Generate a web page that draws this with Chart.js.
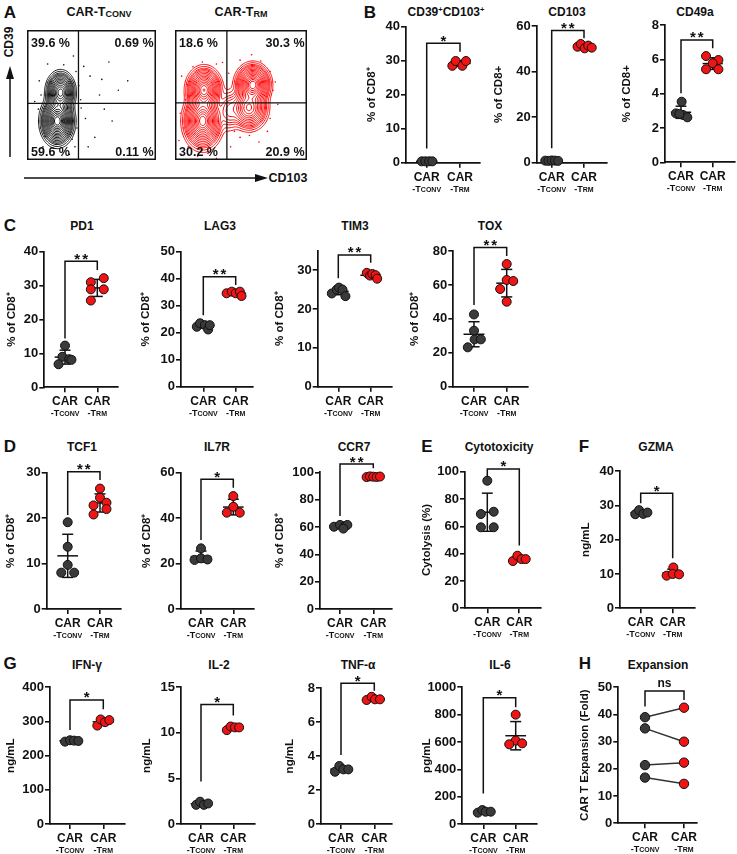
<!DOCTYPE html>
<html>
<head>
<meta charset="utf-8">
<title>CAR-TRM vs CAR-TCONV</title>
<script src="https://cdn.jsdelivr.net/npm/chart.js@4.4.1/dist/chart.umd.min.js"></script>
<style>
  body { margin: 0; background: #fff; }
  #fig { position: relative; width: 737px; height: 854px; overflow: hidden; font-family: 'Liberation Sans', Arial, Helvetica, sans-serif; color: #111; }
  #fig canvas { position: absolute; }
  #fig svg { position: absolute; left: 0; top: 0; }
  .lbl { position: absolute; font-weight: bold; white-space: nowrap; transform: translate(-50%, -50%); line-height: 1; }
  .ttl { font-size: 12px; }
  .let { font-size: 17px; }
  .ttl sup { font-size: 7.5px; vertical-align: 4px; }
  .ttl sub { font-size: 9px; vertical-align: -1px; }
  .rot { transform: translate(-50%, -50%) rotate(-90deg); font-size: 12px; }
</style>
</head>
<body>
<div id="fig">
  <!-- panel letters -->
  <div class="lbl let" style="left:10px;top:12px">A</div>
  <div class="lbl let" style="left:370px;top:12px">B</div>
  <div class="lbl let" style="left:10px;top:225px">C</div>
  <div class="lbl let" style="left:10px;top:446px">D</div>
  <div class="lbl let" style="left:427px;top:446px">E</div>
  <div class="lbl let" style="left:584px;top:446px">F</div>
  <div class="lbl let" style="left:10px;top:663px">G</div>
  <div class="lbl let" style="left:585px;top:663px">H</div>

  <!-- panel titles -->
  <div class="lbl ttl" style="left:99px;top:12px;font-size:12.5px">CAR-T<sub>CONV</sub></div>
  <div class="lbl ttl" style="left:241px;top:12px;font-size:12.5px">CAR-T<sub>RM</sub></div>
  <div class="lbl ttl" style="left:446px;top:12px">CD39<sup>+</sup>CD103<sup>+</sup></div>
  <div class="lbl ttl" style="left:567px;top:12px">CD103</div>
  <div class="lbl ttl" style="left:695px;top:12px">CD49a</div>
  <div class="lbl ttl" style="left:82px;top:226px">PD1</div>
  <div class="lbl ttl" style="left:220px;top:226px">LAG3</div>
  <div class="lbl ttl" style="left:355px;top:226px">TIM3</div>
  <div class="lbl ttl" style="left:490px;top:226px">TOX</div>
  <div class="lbl ttl" style="left:82px;top:447px">TCF1</div>
  <div class="lbl ttl" style="left:217px;top:447px">IL7R</div>
  <div class="lbl ttl" style="left:354px;top:447px">CCR7</div>
  <div class="lbl ttl" style="left:499px;top:447px">Cytotoxicity</div>
  <div class="lbl ttl" style="left:656px;top:447px">GZMA</div>
  <div class="lbl ttl" style="left:87px;top:665px">IFN-γ</div>
  <div class="lbl ttl" style="left:219px;top:665px">IL-2</div>
  <div class="lbl ttl" style="left:358px;top:665px">TNF-α</div>
  <div class="lbl ttl" style="left:500px;top:665px">IL-6</div>
  <div class="lbl ttl" style="left:658px;top:665px">Expansion</div>

  <!-- flow axes -->
  <svg width="300" height="190">
    <line x1="10" y1="157" x2="10" y2="76" stroke="#111" stroke-width="1.5"/>
    <polygon points="10,66 6,79 14,79" fill="#111"/>
    <line x1="24" y1="178" x2="258" y2="178" stroke="#111" stroke-width="1.5"/>
    <polygon points="268,178 255,174 255,182" fill="#111"/>
  </svg>
  <div class="lbl rot" style="left:9px;top:42px">CD39</div>
  <div class="lbl" style="left:288px;top:178px;font-size:12.5px">CD103</div>
</div>

<script>
// =====================
// Data
// =====================

// x categories
const groupNames = ['CAR', 'CAR'];
const groupSubs = ['CONV', 'RM'];

// A - flow plots: density populations [cx, cy, sx, sy, weight] in plot units (0-100)
const convBlobs = [[26, 52, 4.2, 6, 1.0], [23.5, 30, 4.8, 7, 1.3]];
const trmBlobs = [[22, 54, 5, 6.5, 1.0], [21, 30, 5.5, 8, 1.1], [59, 58, 5, 6, 1.1], [56, 40, 5.5, 6.5, 0.7], [41, 38, 4, 7, 0.12]];
const contourLevels = [0.01, 0.02, 0.035, 0.05, 0.07, 0.1, 0.14, 0.19, 0.25, 0.32, 0.4, 0.5, 0.6, 0.7, 0.8, 0.9];
const convGate = [39.9, 43.5];
const trmGate = [39.3, 44];
const convPct = ['39.6 %', '0.69 %', '59.6 %', '0.11 %'];
const trmPct = ['18.6 %', '30.3 %', '30.2 %', '20.9 %'];
const convDots = [[9.5, 60.9], [10.9, 50], [8.8, 39.1], [10.2, 24.6], [12.4, 10.1], [38, 68.1], [40.1, 57.2], [41.6, 46.4],
  [38.7, 24.6], [37.2, 10.1], [48.9, 64.5], [56.2, 50], [45.3, 31.9], [52.6, 17.4], [63.5, 75.4], [70.8, 53.6], [59.9, 39.1],
  [78.1, 60.9], [47.4, 10.1], [16, 73.9], [28.5, 73.2], [32.8, 4.3], [44, 72], [36, 80], [58, 62], [66, 30], [42, 40],
  [14, 18], [35, 16], [6, 45]];
const trmDots = [[5, 64.5], [7.9, 46.4], [6.4, 24.6], [10, 10.1], [17.1, 2.9], [31.4, 1.4], [42.1, 10.1], [49.3, 17.4],
  [63.6, 13.8], [72.1, 31.9], [74.3, 53.6], [72.1, 68.1], [65, 76.1], [49.3, 76.8], [31.4, 73.9], [20.7, 75.4], [77.9, 42.8],
  [56.4, 18.8], [40.7, 66.7], [13.6, 71.7], [4, 36], [9, 58], [25, 5], [45, 22], [70, 22], [76, 60], [36, 75], [58, 81],
  [68, 40], [3, 15]];

// B
const cd39Conv = [0.4, 0.4, 0.4, 0.4];
const cd39Trm = [28.5, 29.9, 28.5, 29.9];
const cd39ConvJit = [-0.15, -0.04, 0.07, 0.17];
const cd39TrmJit = [-0.23, -0.13, 0.07, 0.18];
const cd39Ticks = [0, 10, 20, 30, 40];
const cd39Bracket = [35.1, 4.2, 32.6];

const cd103Conv = [0.9, 0.8, 1.0, 0.9, 0.8];
const cd103Trm = [50.9, 52.1, 50.2, 51.4, 50.5];
const cd103ConvJit = [-0.2, -0.1, 0, 0.1, 0.2];
const cd103TrmJit = [-0.2, -0.1, 0.02, 0.13, 0.24];
const cd103Ticks = [0, 20, 40, 60];
const cd103Bracket = [58, 6.3, 54.6];

const cd49aConv = [3.53, 2.85, 2.76, 2.62, 2.82];
const cd49aTrm = [6.19, 5.96, 5.77, 5.42, 5.42];
const cd49aConvJit = [0.02, -0.16, 0.06, 0.2, -0.05];
const cd49aTrmJit = [-0.21, 0.18, 0, -0.21, 0.18];
const cd49aTicks = [0, 2, 4, 6, 8];
const cd49aBracket = [7.13, 4.02, 6.64];

// C
const pd1Conv = [12.3, 9.0, 8.3, 6.8, 8.1];
const pd1Trm = [32.2, 31.0, 28.9, 28.9, 25.6];
const pd1ConvJit = [0, -0.08, 0.13, -0.2, 0.2];
const pd1TrmJit = [0.2, -0.2, -0.2, 0.2, -0.2];
const pd1Ticks = [0, 10, 20, 30, 40];
const pd1Bracket = [37.2, 14.4, 34.6];

const lag3Conv = [22.2, 23.5, 22.8, 21.2, 22.8];
const lag3Trm = [34.6, 35.2, 34.6, 35.2, 33.6];
const lag3ConvJit = [-0.2, -0.1, 0.05, 0.15, 0.2];
const lag3TrmJit = [-0.28, -0.12, 0, 0.13, 0.18];
const lag3Ticks = [0, 10, 20, 30, 40, 50];
const lag3Bracket = [40.7, 26.5, 37.7];

const tim3Conv = [24.0, 25.0, 25.5, 25.0, 23.3];
const tim3Trm = [29.3, 28.6, 29.0, 28.7, 27.8];
const tim3ConvJit = [-0.2, -0.05, 0.02, 0.13, 0.22];
const tim3TrmJit = [-0.12, -0.02, 0.05, 0.15, 0.2];
const tim3Ticks = [0, 10, 20, 30];
const tim3Bracket = [33.9, 27.9, 31.9];

const toxConv = [42.6, 33.0, 27.9, 27.9, 23.2];
const toxTrm = [72.3, 62.9, 62.3, 57.6, 50.1];
const toxConvJit = [0, 0, 0.02, 0.21, -0.19];
const toxTrmJit = [0, 0, 0.2, -0.2, 0];
const toxTicks = [0, 20, 40, 60, 80];
const toxBracket = [82, 48.1, 77];

// D
const tcf1Conv = [19.1, 13.7, 9.7, 8.0, 8.0];
const tcf1Trm = [26.5, 24.5, 23.4, 22.8, 22.0, 20.8];
const tcf1ConvJit = [0, 0, 0, -0.2, 0.2];
const tcf1TrmJit = [0, 0, 0.2, -0.2, 0.2, -0.2];
const tcf1Ticks = [0, 10, 20, 30];
const tcf1Bracket = [30.2, 20.7, 28.4];

const il7rConv = [26.7, 21.6, 22.3, 21.8];
const il7rTrm = [49.7, 45.0, 42.4, 42.4];
const il7rConvJit = [0, -0.2, 0, 0.2];
const il7rTrmJit = [0, 0, -0.2, 0.2];
const il7rTicks = [0, 20, 40, 60];
const il7rBracket = [57.1, 30.4, 53.4];

const ccr7Conv = [60.2, 61.5, 60.7, 61.5, 58.8];
const ccr7Trm = [96.5, 97.0, 96.8, 96.6, 96.9];
const ccr7ConvJit = [-0.18, 0, 0.15, 0.22, 0.1];
const ccr7TrmJit = [-0.2, -0.1, 0, 0.1, 0.2];
const ccr7Ticks = [0, 20, 40, 60, 80, 100];
const ccr7Bracket = [106, 68, 103];

// E
const cytoConv = [93.4, 69.0, 70.7, 59.3, 59.3];
const cytoTrm = [34.6, 38.5, 36.0, 36.0];
const cytoConvJit = [0, -0.2, 0.2, -0.2, 0.2];
const cytoTrmJit = [-0.2, -0.06, 0.07, 0.2];
const cytoTicks = [0, 20, 40, 60, 80, 100];
const cytoBracket = [102, 95.9, 45.9];

// F
const gzmaConv = [27.4, 28.6, 27.5, 27.9];
const gzmaTrm = [9.5, 11.9, 10.0, 9.9];
const gzmaConvJit = [-0.17, -0.05, 0.08, 0.21];
const gzmaTrmJit = [-0.19, 0.02, 0.0, 0.2];
const gzmaTicks = [0, 10, 20, 30, 40];
const gzmaBracket = [33.5, 30.6, 14.6];

// G
const ifnConv = [241, 245, 244, 243];
const ifnTrm = [288, 306, 298, 304];
const ifnConvJit = [-0.15, 0, 0.12, 0.25];
const ifnTrmJit = [-0.18, -0.08, 0.05, 0.18];
const ifnTicks = [0, 100, 200, 300, 400];
const ifnBracket = [363, 275, 336];

const il2Conv = [2.1, 2.45, 2.1, 2.25];
const il2Trm = [10.3, 10.7, 10.6, 10.6];
const il2ConvJit = [-0.15, -0.03, 0.09, 0.22];
const il2TrmJit = [-0.2, -0.08, 0.05, 0.18];
const il2Ticks = [0, 5, 10, 15];
const il2Bracket = [13.1, 4.65, 11.9];

const tnfConv = [3.08, 3.42, 3.22, 3.22];
const tnfTrm = [7.31, 7.5, 7.35, 7.35];
const tnfConvJit = [-0.18, -0.05, 0.07, 0.22];
const tnfTrmJit = [-0.23, -0.08, 0.02, 0.17];
const tnfTicks = [0, 2, 4, 6, 8];
const tnfBracket = [8.3, 4.07, 7.85];

const il6Conv = [83, 102, 90, 90];
const il6Trm = [800, 610, 583, 590];
const il6ConvJit = [-0.17, -0.03, 0.07, 0.23];
const il6TrmJit = [0, 0, -0.2, 0.2];
const il6Ticks = [0, 200, 400, 600, 800, 1000];
const il6Bracket = [924, 224, 854];

// H (paired)
const expConv = [39.0, 34.9, 21.4, 16.8];
const expTrm = [42.5, 30.0, 22.3, 14.5];
const expTicks = [0, 10, 20, 30, 40, 50];
const expBracket = [48.6, 42.9, 45.3];


// =====================
// Styling
// =====================
const FONT = "'Liberation Sans', Arial, Helvetica, sans-serif";
const INK = '#111';
const GRAY = '#3a3a3a';
const RED = '#f01414';
Chart.defaults.font.family = FONT;
Chart.defaults.color = INK;

const mean = a => a.reduce((s, v) => s + v, 0) / a.length;
const sd = a => {
    const m = mean(a);
    return Math.sqrt(a.reduce((s, v) => s + (v - m) * (v - m), 0) / (a.length - 1));
};


/**
 * Draws mean +/- SD bars, the significance bracket and the two-line x labels
 * for a dot plot.
 */
const dotPlugin = {
    id: 'dotExtras',

    beforeDatasetsDraw(chart) {
        const opts = chart.options.plugins.dotExtras;
        if (!opts.errorBars) return;
        const { ctx } = chart;
        const xs = chart.scales.x, ys = chart.scales.y;
        const seg = (x1, y1, x2, y2) => {
            ctx.beginPath();
            ctx.moveTo(xs.getPixelForValue(x1), ys.getPixelForValue(y1));
            ctx.lineTo(xs.getPixelForValue(x2), ys.getPixelForValue(y2));
            ctx.stroke();
        };
        ctx.save();
        ctx.strokeStyle = INK;
        ctx.lineWidth = 1.5;
        opts.groups.forEach((vals, i) => {
            const c = i + 1, m = mean(vals), s = sd(vals);
            seg(c - 0.32, m, c + 0.32, m);
            seg(c, m - s, c, m + s);
            seg(c - 0.17, m + s, c + 0.17, m + s);
            seg(c - 0.17, m - s, c + 0.17, m - s);
        });
        ctx.restore();
    },

    afterDraw(chart) {
        const opts = chart.options.plugins.dotExtras;
        const { ctx } = chart;
        const xs = chart.scales.x, ys = chart.scales.y;
        const [top, lb, rb] = opts.bracket;
        const x1 = xs.getPixelForValue(1), x2 = xs.getPixelForValue(2);
        const yt = ys.getPixelForValue(top);

        ctx.save();
        // significance bracket
        ctx.strokeStyle = INK;
        ctx.lineWidth = 1.5;
        ctx.beginPath();
        ctx.moveTo(x1, ys.getPixelForValue(lb));
        ctx.lineTo(x1, yt);
        ctx.lineTo(x2, yt);
        ctx.lineTo(x2, ys.getPixelForValue(rb));
        ctx.stroke();

        ctx.fillStyle = INK;
        ctx.textAlign = 'center';
        if (opts.star === 'ns') {
            ctx.font = `bold 12px ${FONT}`;
            ctx.fillText('ns', (x1 + x2) / 2, yt - 4);
        } else {
            ctx.font = `bold 15px ${FONT}`;
            ctx.letterSpacing = '2px';
            ctx.fillText(opts.star, (x1 + x2) / 2 + 1, yt + 2.5);
            ctx.letterSpacing = '0px';
        }

        // category labels: CAR / -T(sub)
        const base = chart.chartArea.bottom;
        groupNames.forEach((name, i) => {
            const x = xs.getPixelForValue(i + 1);
            ctx.textAlign = 'center';
            ctx.font = `bold 12px ${FONT}`;
            ctx.fillText(name, x, base + 18);
            ctx.font = `bold 9px ${FONT}`;
            const w1 = ctx.measureText('-T').width;
            ctx.font = `bold 7px ${FONT}`;
            const w2 = ctx.measureText(groupSubs[i]).width;
            const x0 = x - (w1 + w2) / 2;
            ctx.textAlign = 'left';
            ctx.font = `bold 9px ${FONT}`;
            ctx.fillText('-T', x0, base + 29);
            ctx.font = `bold 7px ${FONT}`;
            ctx.fillText(groupSubs[i], x0 + w1, base + 29);
        });
        ctx.restore();
    }
};


/**
 * Builds one dot-plot chart so that its plot area lands on the given page pixels.
 * p: ax (y axis x), c1/c2 (category x), ex (x axis end), top/bot (y of max / 0), gap (title offset)
 */
function dotChart(p) {
    const titleHalf = 11.5 * 1.2 / 2;
    const left = Math.round(p.ax - p.gap - titleHalf);
    const top = Math.round(p.top - 26);
    const width = Math.ceil(p.ex + 8) - left;
    const height = Math.round(p.bot + 36) - top;
    const unit = p.c2 - p.c1;

    const canvas = document.createElement('canvas');
    canvas.width = width;
    canvas.height = height;
    canvas.style.left = left + 'px';
    canvas.style.top = top + 'px';
    canvas.style.width = width + 'px';
    canvas.style.height = height + 'px';
    document.getElementById('fig').appendChild(canvas);

    const pointStyle = {
        pointRadius: p.radius || 4.5,
        borderColor: '#111',
        pointBorderColor: '#111',
        borderWidth: 1,
        clip: false
    };

    let datasets;
    if (p.paired) {
        datasets = p.conv.map((v, i) => Object.assign({}, pointStyle, {
            data: [{ x: 1, y: v }, { x: 2, y: p.trm[i] }],
            showLine: true,
            borderColor: '#333',
            borderWidth: 1.5,
            pointBorderWidth: 1,
            pointBackgroundColor: [GRAY, RED]
        }));
    } else {
        datasets = [
            Object.assign({}, pointStyle, {
                data: p.conv.map((v, i) => ({ x: 1 + p.convJit[i], y: v })),
                backgroundColor: GRAY
            }),
            Object.assign({}, pointStyle, {
                data: p.trm.map((v, i) => ({ x: 2 + p.trmJit[i], y: v })),
                backgroundColor: RED
            })
        ];
    }

    const axisLine = { display: true, color: INK, width: 1.7 };
    const tickMarks = { drawOnChartArea: false, drawTicks: true, tickLength: 5, color: INK, lineWidth: 1.6 };

    new Chart(canvas, {
        type: 'scatter',
        data: { datasets },
        options: {
            responsive: false,
            animation: false,
            devicePixelRatio: 1,
            layout: { padding: { top: p.top - top, right: left + width - p.ex, left: 0, bottom: 0 } },
            plugins: {
                legend: { display: false },
                tooltip: { enabled: false },
                dotExtras: {
                    groups: [p.conv, p.trm],
                    errorBars: !p.paired,
                    bracket: p.bracket,
                    star: p.star
                }
            },
            scales: {
                x: {
                    type: 'linear',
                    min: 1 - (p.c1 - p.ax) / unit,
                    max: 2 + (p.ex - p.c2) / unit,
                    afterBuildTicks: s => { s.ticks = [{ value: 1 }, { value: 2 }]; },
                    afterFit: s => { s.height = top + height - p.bot; },
                    ticks: { display: false },
                    grid: tickMarks,
                    border: axisLine
                },
                y: {
                    type: 'linear',
                    min: 0,
                    max: p.yMax,
                    afterBuildTicks: s => { s.ticks = p.ticks.map(v => ({ value: v })); },
                    afterFit: s => { s.width = p.ax - left; },
                    ticks: {
                        font: { family: FONT, size: 13, weight: 'bold' },
                        color: INK,
                        padding: 1,
                        callback: v => String(v)
                    },
                    grid: tickMarks,
                    border: axisLine,
                    title: {
                        display: true,
                        text: p.yTitle,
                        font: { family: FONT, size: 11.5, weight: 'bold' },
                        color: INK,
                        padding: 0
                    }
                }
            }
        },
        plugins: [dotPlugin]
    });
}


/**
 * Flow cytometry plot: density contours (marching squares over the scales),
 * quadrant gates, frame and quadrant percentages.
 */
const flowPlugin = {
    id: 'flow',

    beforeDatasetsDraw(chart) {
        const opts = chart.options.plugins.flow;
        const { ctx } = chart;
        const xs = chart.scales.x, ys = chart.scales.y;
        const N = 120;
        const px = [], py = [];
        for (let i = 0; i <= N; i++) {
            px.push(xs.getPixelForValue(i * 100 / N));
            py.push(ys.getPixelForValue(i * 100 / N));
        }
        // density grid
        const f = [];
        let fmax = 0;
        for (let j = 0; j <= N; j++) {
            const row = [];
            for (let i = 0; i <= N; i++) {
                const x = i * 100 / N, y = j * 100 / N;
                let s = 0;
                opts.blobs.forEach(([cx, cy, sx, sy, w]) => {
                    const dx = (x - cx) / sx, dy = (y - cy) / sy;
                    s += w * Math.exp(-0.5 * (dx * dx + dy * dy));
                });
                row.push(s);
                if (s > fmax) fmax = s;
            }
            f.push(row);
        }

        ctx.save();
        ctx.strokeStyle = opts.color;
        ctx.lineWidth = 1;
        contourLevels.forEach(frac => {
            const L = frac * fmax;
            ctx.beginPath();
            for (let j = 0; j < N; j++) {
                for (let i = 0; i < N; i++) {
                    const a = f[j][i], b = f[j][i + 1], c = f[j + 1][i + 1], d = f[j + 1][i];
                    const pts = [];
                    const cross = (v1, v2, x1, y1, x2, y2) => {
                        if ((v1 < L) !== (v2 < L)) {
                            const t = (L - v1) / (v2 - v1);
                            pts.push([x1 + (x2 - x1) * t, y1 + (y2 - y1) * t]);
                        }
                    };
                    cross(a, b, px[i], py[j], px[i + 1], py[j]);
                    cross(b, c, px[i + 1], py[j], px[i + 1], py[j + 1]);
                    cross(c, d, px[i + 1], py[j + 1], px[i], py[j + 1]);
                    cross(d, a, px[i], py[j + 1], px[i], py[j]);
                    if (pts.length >= 2) { ctx.moveTo(pts[0][0], pts[0][1]); ctx.lineTo(pts[1][0], pts[1][1]); }
                    if (pts.length === 4) { ctx.moveTo(pts[2][0], pts[2][1]); ctx.lineTo(pts[3][0], pts[3][1]); }
                }
            }
            ctx.stroke();
        });
        ctx.restore();
    },

    afterDraw(chart) {
        const opts = chart.options.plugins.flow;
        const { ctx, chartArea: ca } = chart;
        const xs = chart.scales.x, ys = chart.scales.y;
        ctx.save();
        ctx.strokeStyle = INK;
        // gates
        ctx.lineWidth = 1.3;
        const gx = xs.getPixelForValue(opts.gate[0]), gy = ys.getPixelForValue(opts.gate[1]);
        ctx.beginPath();
        ctx.moveTo(gx, ca.top); ctx.lineTo(gx, ca.bottom);
        ctx.moveTo(ca.left, gy); ctx.lineTo(ca.right, gy);
        ctx.stroke();
        // frame
        ctx.lineWidth = 1.5;
        ctx.strokeRect(ca.left + 0.75, ca.top + 0.75, ca.right - ca.left - 1.5, ca.bottom - ca.top - 1.5);
        // quadrant percentages
        ctx.fillStyle = INK;
        ctx.font = `bold 12.5px ${FONT}`;
        ctx.textAlign = 'left';
        ctx.fillText(opts.pct[0], ca.left + 4, ca.top + 16.5);
        ctx.fillText(opts.pct[2], ca.left + 4, ca.bottom - 4.5);
        ctx.textAlign = 'right';
        ctx.fillText(opts.pct[1], ca.right - 2.5, ca.top + 16.5);
        ctx.fillText(opts.pct[3], ca.right - 2.5, ca.bottom - 4.5);
        ctx.restore();
    }
};

function flowChart(box, blobs, dots, gate, pct, color) {
    const canvas = document.createElement('canvas');
    const w = box[2] - box[0], h = box[3] - box[1];
    canvas.width = w;
    canvas.height = h;
    canvas.style.left = box[0] + 'px';
    canvas.style.top = box[1] + 'px';
    canvas.style.width = w + 'px';
    canvas.style.height = h + 'px';
    document.getElementById('fig').appendChild(canvas);

    new Chart(canvas, {
        type: 'scatter',
        data: {
            datasets: [{
                data: dots.map(([x, y]) => ({ x, y })),
                pointRadius: 0.8,
                backgroundColor: color,
                borderWidth: 0
            }]
        },
        options: {
            responsive: false,
            animation: false,
            devicePixelRatio: 1,
            layout: { padding: 0 },
            plugins: {
                legend: { display: false },
                tooltip: { enabled: false },
                flow: { blobs, gate, pct, color }
            },
            scales: {
                x: { type: 'linear', display: false, min: 0, max: 100 },
                y: { type: 'linear', display: false, min: 0, max: 100 }
            }
        },
        plugins: [flowPlugin]
    });
}


// =====================
// Panels
// =====================
flowChart([23, 26, 160, 164], convBlobs, convDots, convGate, convPct, '#111');
flowChart([171, 26, 311, 164], trmBlobs, trmDots, trmGate, trmPct, '#ff0000');

const CD8 = '% of CD8⁺';
const panels = [
    // B
    { ax: 406, c1: 426.7, c2: 460, ex: 480, top: 26.7, bot: 162.7, gap: 34, yMax: 40, ticks: cd39Ticks, yTitle: CD8,
      conv: cd39Conv, trm: cd39Trm, convJit: cd39ConvJit, trmJit: cd39TrmJit, bracket: cd39Bracket, star: '*' },
    { ax: 536.7, c1: 551.7, c2: 584, ex: 606.7, top: 26, bot: 162.7, gap: 38, yMax: 60, ticks: cd103Ticks, yTitle: '% of CD8+',
      conv: cd103Conv, trm: cd103Trm, convJit: cd103ConvJit, trmJit: cd103TrmJit, bracket: cd103Bracket, star: '**' },
    { ax: 665, c1: 681, c2: 712.7, ex: 735, top: 25, bot: 162.3, gap: 38, yMax: 8, ticks: cd49aTicks, yTitle: '% of CD8+',
      conv: cd49aConv, trm: cd49aTrm, convJit: cd49aConvJit, trmJit: cd49aTrmJit, bracket: cd49aBracket, star: '**' },
    // C
    { ax: 44.3, c1: 65, c2: 97.3, ex: 118, top: 251.7, bot: 387.3, gap: 32.6, yMax: 40, ticks: pd1Ticks, yTitle: CD8,
      conv: pd1Conv, trm: pd1Trm, convJit: pd1ConvJit, trmJit: pd1TrmJit, bracket: pd1Bracket, star: '**' },
    { ax: 181, c1: 203.3, c2: 235.7, ex: 253, top: 251.7, bot: 386.7, gap: 35, yMax: 50, ticks: lag3Ticks, yTitle: CD8,
      conv: lag3Conv, trm: lag3Trm, convJit: lag3ConvJit, trmJit: lag3TrmJit, bracket: lag3Bracket, star: '**' },
    { ax: 317.7, c1: 338.3, c2: 370.7, ex: 391.7, top: 250.7, bot: 386.7, gap: 37.7, yMax: 35, ticks: tim3Ticks, yTitle: CD8,
      conv: tim3Conv, trm: tim3Trm, convJit: tim3ConvJit, trmJit: tim3TrmJit, bracket: tim3Bracket, star: '**' },
    { ax: 453.3, c1: 474, c2: 506.7, ex: 528.3, top: 251, bot: 386.7, gap: 38, yMax: 80, ticks: toxTicks, yTitle: CD8,
      conv: toxConv, trm: toxTrm, convJit: toxConvJit, trmJit: toxTrmJit, bracket: toxBracket, star: '**' },
    // D
    { ax: 46.7, c1: 67.7, c2: 100, ex: 120.7, top: 472.7, bot: 609, gap: 36, yMax: 30, ticks: tcf1Ticks, yTitle: CD8,
      conv: tcf1Conv, trm: tcf1Trm, convJit: tcf1ConvJit, trmJit: tcf1TrmJit, bracket: tcf1Bracket, star: '**' },
    { ax: 180.7, c1: 201, c2: 233.3, ex: 253.3, top: 472.7, bot: 609, gap: 34, yMax: 60, ticks: il7rTicks, yTitle: CD8,
      conv: il7rConv, trm: il7rTrm, convJit: il7rConvJit, trmJit: il7rTrmJit, bracket: il7rBracket, star: '*' },
    { ax: 320, c1: 340, c2: 373.3, ex: 392, top: 472.3, bot: 609, gap: 40, yMax: 100, ticks: ccr7Ticks, yTitle: CD8,
      conv: ccr7Conv, trm: ccr7Trm, convJit: ccr7ConvJit, trmJit: ccr7TrmJit, bracket: ccr7Bracket, star: '**' },
    // E, F
    { ax: 465, c1: 487.3, c2: 519.3, ex: 541, top: 471.7, bot: 608.3, gap: 38, yMax: 100, ticks: cytoTicks, yTitle: 'Cytolysis (%)',
      conv: cytoConv, trm: cytoTrm, convJit: cytoConvJit, trmJit: cytoTrmJit, bracket: cytoBracket, star: '*' },
    { ax: 620, c1: 640.7, c2: 672.7, ex: 695, top: 471, bot: 608.3, gap: 34, yMax: 40, ticks: gzmaTicks, yTitle: 'ng/mL',
      conv: gzmaConv, trm: gzmaTrm, convJit: gzmaConvJit, trmJit: gzmaTrmJit, bracket: gzmaBracket, star: '*' },
    // G
    { ax: 50, c1: 70, c2: 103.3, ex: 125, top: 687.3, bot: 824, gap: 39, yMax: 400, ticks: ifnTicks, yTitle: 'ng/mL',
      conv: ifnConv, trm: ifnTrm, convJit: ifnConvJit, trmJit: ifnTrmJit, bracket: ifnBracket, star: '*' },
    { ax: 181, c1: 201, c2: 233.3, ex: 255, top: 687.3, bot: 824, gap: 34, yMax: 15, ticks: il2Ticks, yTitle: 'ng/mL',
      conv: il2Conv, trm: il2Trm, convJit: il2ConvJit, trmJit: il2TrmJit, bracket: il2Bracket, star: '*' },
    { ax: 321, c1: 341, c2: 374.3, ex: 392, top: 688.3, bot: 824, gap: 31, yMax: 8, ticks: tnfTicks, yTitle: 'ng/mL',
      conv: tnfConv, trm: tnfTrm, convJit: tnfConvJit, trmJit: tnfTrmJit, bracket: tnfBracket, star: '*' },
    { ax: 462.3, c1: 483.3, c2: 515.7, ex: 536.7, top: 687.3, bot: 824, gap: 35.6, yMax: 1000, ticks: il6Ticks, yTitle: 'pg/mL',
      conv: il6Conv, trm: il6Trm, convJit: il6ConvJit, trmJit: il6TrmJit, bracket: il6Bracket, star: '*' },
    // H
    { ax: 618.3, c1: 645, c2: 684, ex: 696.7, top: 687.3, bot: 823.3, gap: 33, yMax: 50, ticks: expTicks,
      yTitle: 'CAR T Expansion (Fold)', conv: expConv, trm: expTrm, paired: true, radius: 4.7, bracket: expBracket, star: 'ns' }
];

panels.forEach(dotChart);
</script>
</body>
</html>
